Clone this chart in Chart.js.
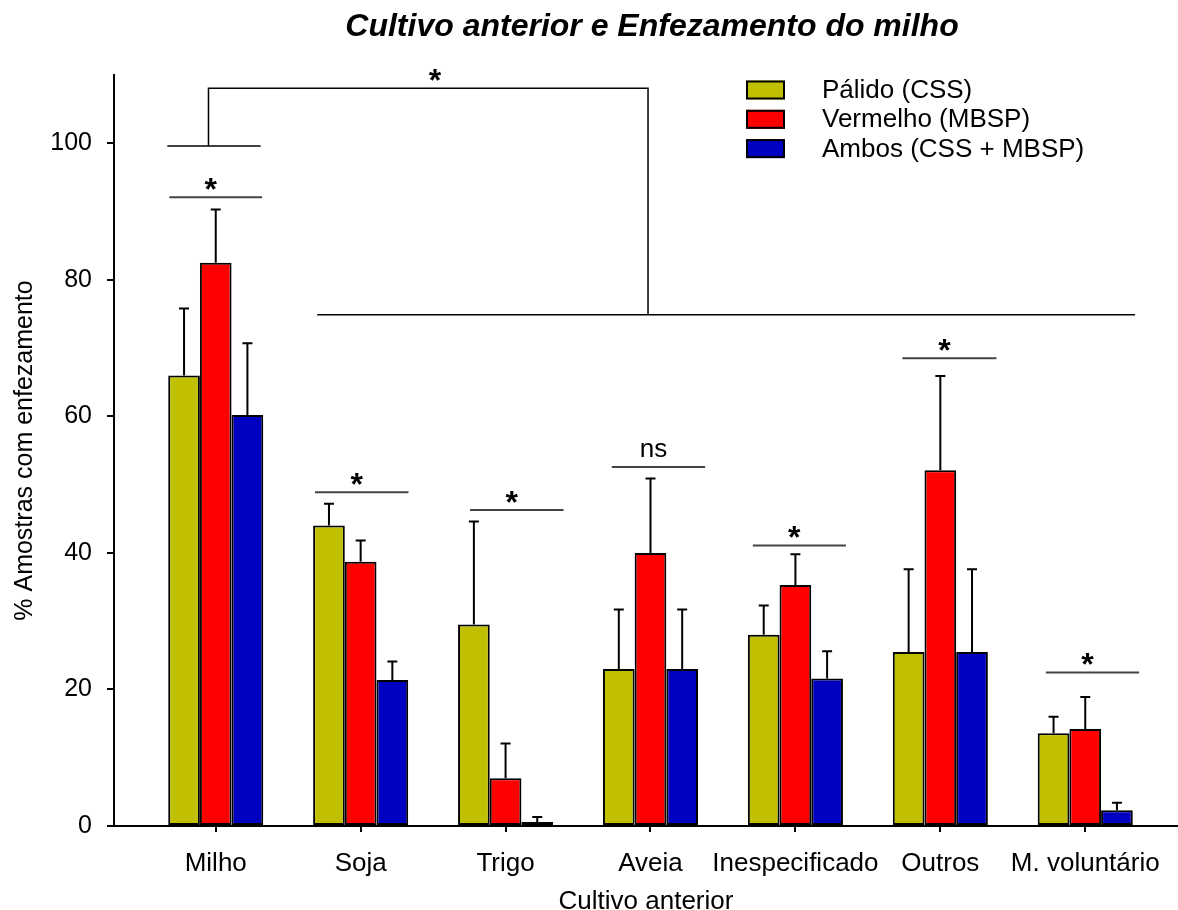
<!DOCTYPE html>
<html lang="pt-BR">
<head>
    <meta charset="UTF-8">
    <title>Cultivo anterior e Enfezamento do milho</title>
    <script src="https://cdn.jsdelivr.net/npm/chart.js"></script>
    <style>
        html, body { margin: 0; padding: 0; background: #fff; }
    </style>
</head>
<body>
    <canvas id="grafico" width="1178" height="910"></canvas>

    <script>
        // Cultivo anterior
        const categorias = ['Milho', 'Soja', 'Trigo', 'Aveia', 'Inespecificado', 'Outros', 'M. voluntário'];

        // % amostras com enfezamento
        const palido   = [66.0, 44.0, 29.5, 23.0, 28.0, 25.5, 13.6];
        const vermelho = [82.5, 38.7, 7.0, 40.0, 35.3, 52.1, 14.2];
        const ambos    = [60.2, 21.4, 0.6, 23.0, 21.6, 25.5, 2.3];

        // erro (só a parte de cima aparece)
        const erroPalido   = [9.8, 3.2, 15.1, 8.7, 4.3, 12.1, 2.4];
        const erroVermelho = [7.8, 3.1, 5.1, 10.9, 4.5, 13.8, 4.7];
        const erroAmbos    = [10.5, 2.7, 0.7, 8.7, 4.0, 12.1, 1.1];

        const yTicks = [0, 20, 40, 60, 80, 100];

        // significancia dentro de cada cultivo
        const sigY     = [92.1, 48.9, 46.3, 52.6, 41.1, 68.5, 22.5];
        const sigFrom  = [-0.32, -0.315, -0.245, -0.267, -0.294, -0.262, -0.272];
        const sigTo    = [0.32, 0.33, 0.40, 0.377, 0.348, 0.387, 0.372];
        const sigLabel = ['*', '*', '*', 'ns', '*', '*', '*'];

        // Milho x demais cultivos
        const chaveMilho  = [[-0.334, 99.6], [0.31, 99.6]];
        const chaveLigacao = [[-0.05, 99.6], [-0.05, 108.05], [2.983, 108.05], [2.983, 74.9]];
        const chaveDemais = [[0.70, 74.9], [6.344, 74.9]];
        const chaveEstrela = [1.513, 108.05];

        const FONTE = "'Liberation Sans', Arial, sans-serif";

        const toXY = arr => arr.map((v, i) => ({ x: i, y: v }));

        // barras de erro
        const barrasErro = {
            id: 'barrasErro',
            afterDatasetsDraw(chart) {
                const ctx = chart.ctx;
                const y = chart.scales.y;
                ctx.save();
                ctx.strokeStyle = '#000';
                ctx.lineWidth = 2;
                chart.data.datasets.forEach((ds, di) => {
                    chart.getDatasetMeta(di).data.forEach((bar, i) => {
                        const topo = y.getPixelForValue(ds.data[i].y + ds.erro[i]);
                        ctx.beginPath();
                        ctx.moveTo(bar.x, bar.y);
                        ctx.lineTo(bar.x, topo);
                        ctx.moveTo(bar.x - 5, topo);
                        ctx.lineTo(bar.x + 5, topo);
                        ctx.stroke();
                    });
                });
                ctx.restore();
            }
        };

        // titulo, legenda e marcas de significancia
        const anotacoes = {
            id: 'anotacoes',
            afterDraw(chart) {
                const { ctx, scales: { x, y } } = chart;
                const px = v => x.getPixelForValue(v);
                const py = v => y.getPixelForValue(v);
                ctx.save();

                // linhas por cultivo
                categorias.forEach((c, i) => {
                    const yy = py(sigY[i]);
                    const x0 = px(i + sigFrom[i]), x1 = px(i + sigTo[i]);
                    ctx.strokeStyle = '#444';
                    ctx.lineWidth = 2;
                    ctx.beginPath();
                    ctx.moveTo(x0, yy);
                    ctx.lineTo(x1, yy);
                    ctx.stroke();
                    ctx.fillStyle = '#000';
                    ctx.textAlign = 'center';
                    ctx.textBaseline = 'alphabetic';
                    if (sigLabel[i] === '*') {
                        ctx.font = 'bold 32px ' + FONTE;
                        ctx.fillText('*', (x0 + x1) / 2 - 5, yy + 3);
                    } else {
                        ctx.font = '26px ' + FONTE;
                        ctx.fillText(sigLabel[i], (x0 + x1) / 2 - 5, yy - 10);
                    }
                });

                // chave Milho x demais
                ctx.strokeStyle = '#000';
                ctx.lineWidth = 1.5;
                [chaveMilho, chaveLigacao, chaveDemais].forEach(path => {
                    ctx.beginPath();
                    path.forEach((p, k) => {
                        if (k === 0) ctx.moveTo(px(p[0]), py(p[1]));
                        else ctx.lineTo(px(p[0]), py(p[1]));
                    });
                    ctx.stroke();
                });
                ctx.font = 'bold 32px ' + FONTE;
                ctx.fillText('*', px(chaveEstrela[0]), py(chaveEstrela[1]) + 3);

                // titulo
                ctx.font = 'italic bold 32px ' + FONTE;
                ctx.textAlign = 'center';
                ctx.fillText('Cultivo anterior e Enfezamento do milho', 652, 36);

                // legenda
                chart.data.datasets.forEach((ds, i) => {
                    const yc = 90 + i * 29.3;
                    ctx.fillStyle = ds.backgroundColor;
                    ctx.fillRect(746, yc - 9.5, 39, 19);
                    ctx.strokeStyle = '#000';
                    ctx.lineWidth = 2;
                    ctx.strokeRect(747, yc - 8.5, 37, 17);
                    ctx.fillStyle = '#000';
                    ctx.font = '26px ' + FONTE;
                    ctx.textAlign = 'left';
                    ctx.textBaseline = 'middle';
                    ctx.fillText(ds.label, 822, yc + 1);
                });

                ctx.restore();
            }
        };

        const serie = (label, valores, erro, cor) => ({
            label: label,
            data: toXY(valores),
            erro: erro,
            backgroundColor: cor,
            borderColor: '#000',
            borderWidth: 2,
            borderSkipped: false,
            categoryPercentage: 0.656,
            barPercentage: 1.0
        });

        new Chart(document.getElementById('grafico'), {
            type: 'bar',
            data: {
                datasets: [
                    serie('Pálido (CSS)', palido, erroPalido, '#C0C000'),
                    serie('Vermelho (MBSP)', vermelho, erroVermelho, '#FF0000'),
                    serie('Ambos (CSS + MBSP)', ambos, erroAmbos, '#0000C0')
                ]
            },
            options: {
                responsive: false,
                animation: false,
                layout: { padding: { top: 75, left: 0, right: 0, bottom: 0 } },
                plugins: {
                    legend: { display: false },
                    title: { display: false },
                    tooltip: { enabled: false }
                },
                scales: {
                    x: {
                        type: 'linear',
                        min: -0.702,
                        max: 6.64,
                        offset: false,
                        afterFit: s => { s.height = 84; },
                        afterBuildTicks: s => { s.ticks = categorias.map((c, i) => ({ value: i })); },
                        ticks: {
                            callback: v => categorias[v],
                            font: { family: FONTE, size: 26 },
                            color: '#000',
                            padding: 16,
                            maxRotation: 0,
                            autoSkip: false
                        },
                        grid: { offset: false, drawOnChartArea: false, drawTicks: true, tickLength: 6, color: '#000', lineWidth: 2 },
                        border: { color: '#000', width: 2 },
                        title: {
                            display: true,
                            text: 'Cultivo anterior',
                            font: { family: FONTE, size: 26, lineHeight: 0.66 },
                            color: '#000',
                            padding: 0
                        }
                    },
                    y: {
                        min: 0,
                        max: 110,
                        afterFit: s => { s.width = 114; },
                        afterBuildTicks: s => { s.ticks = yTicks.map(v => ({ value: v })); },
                        ticks: { font: { family: FONTE, size: 25 }, color: '#000', padding: 15 },
                        grid: { drawOnChartArea: false, drawTicks: true, tickLength: 7, color: '#000', lineWidth: 2 },
                        border: { color: '#000', width: 2 },
                        title: {
                            display: true,
                            text: '% Amostras com enfezamento',
                            font: { family: FONTE, size: 25 },
                            color: '#000',
                            padding: { top: 10, bottom: 0 }
                        }
                    }
                }
            },
            plugins: [barrasErro, anotacoes]
        });
    </script>
</body>
</html>
